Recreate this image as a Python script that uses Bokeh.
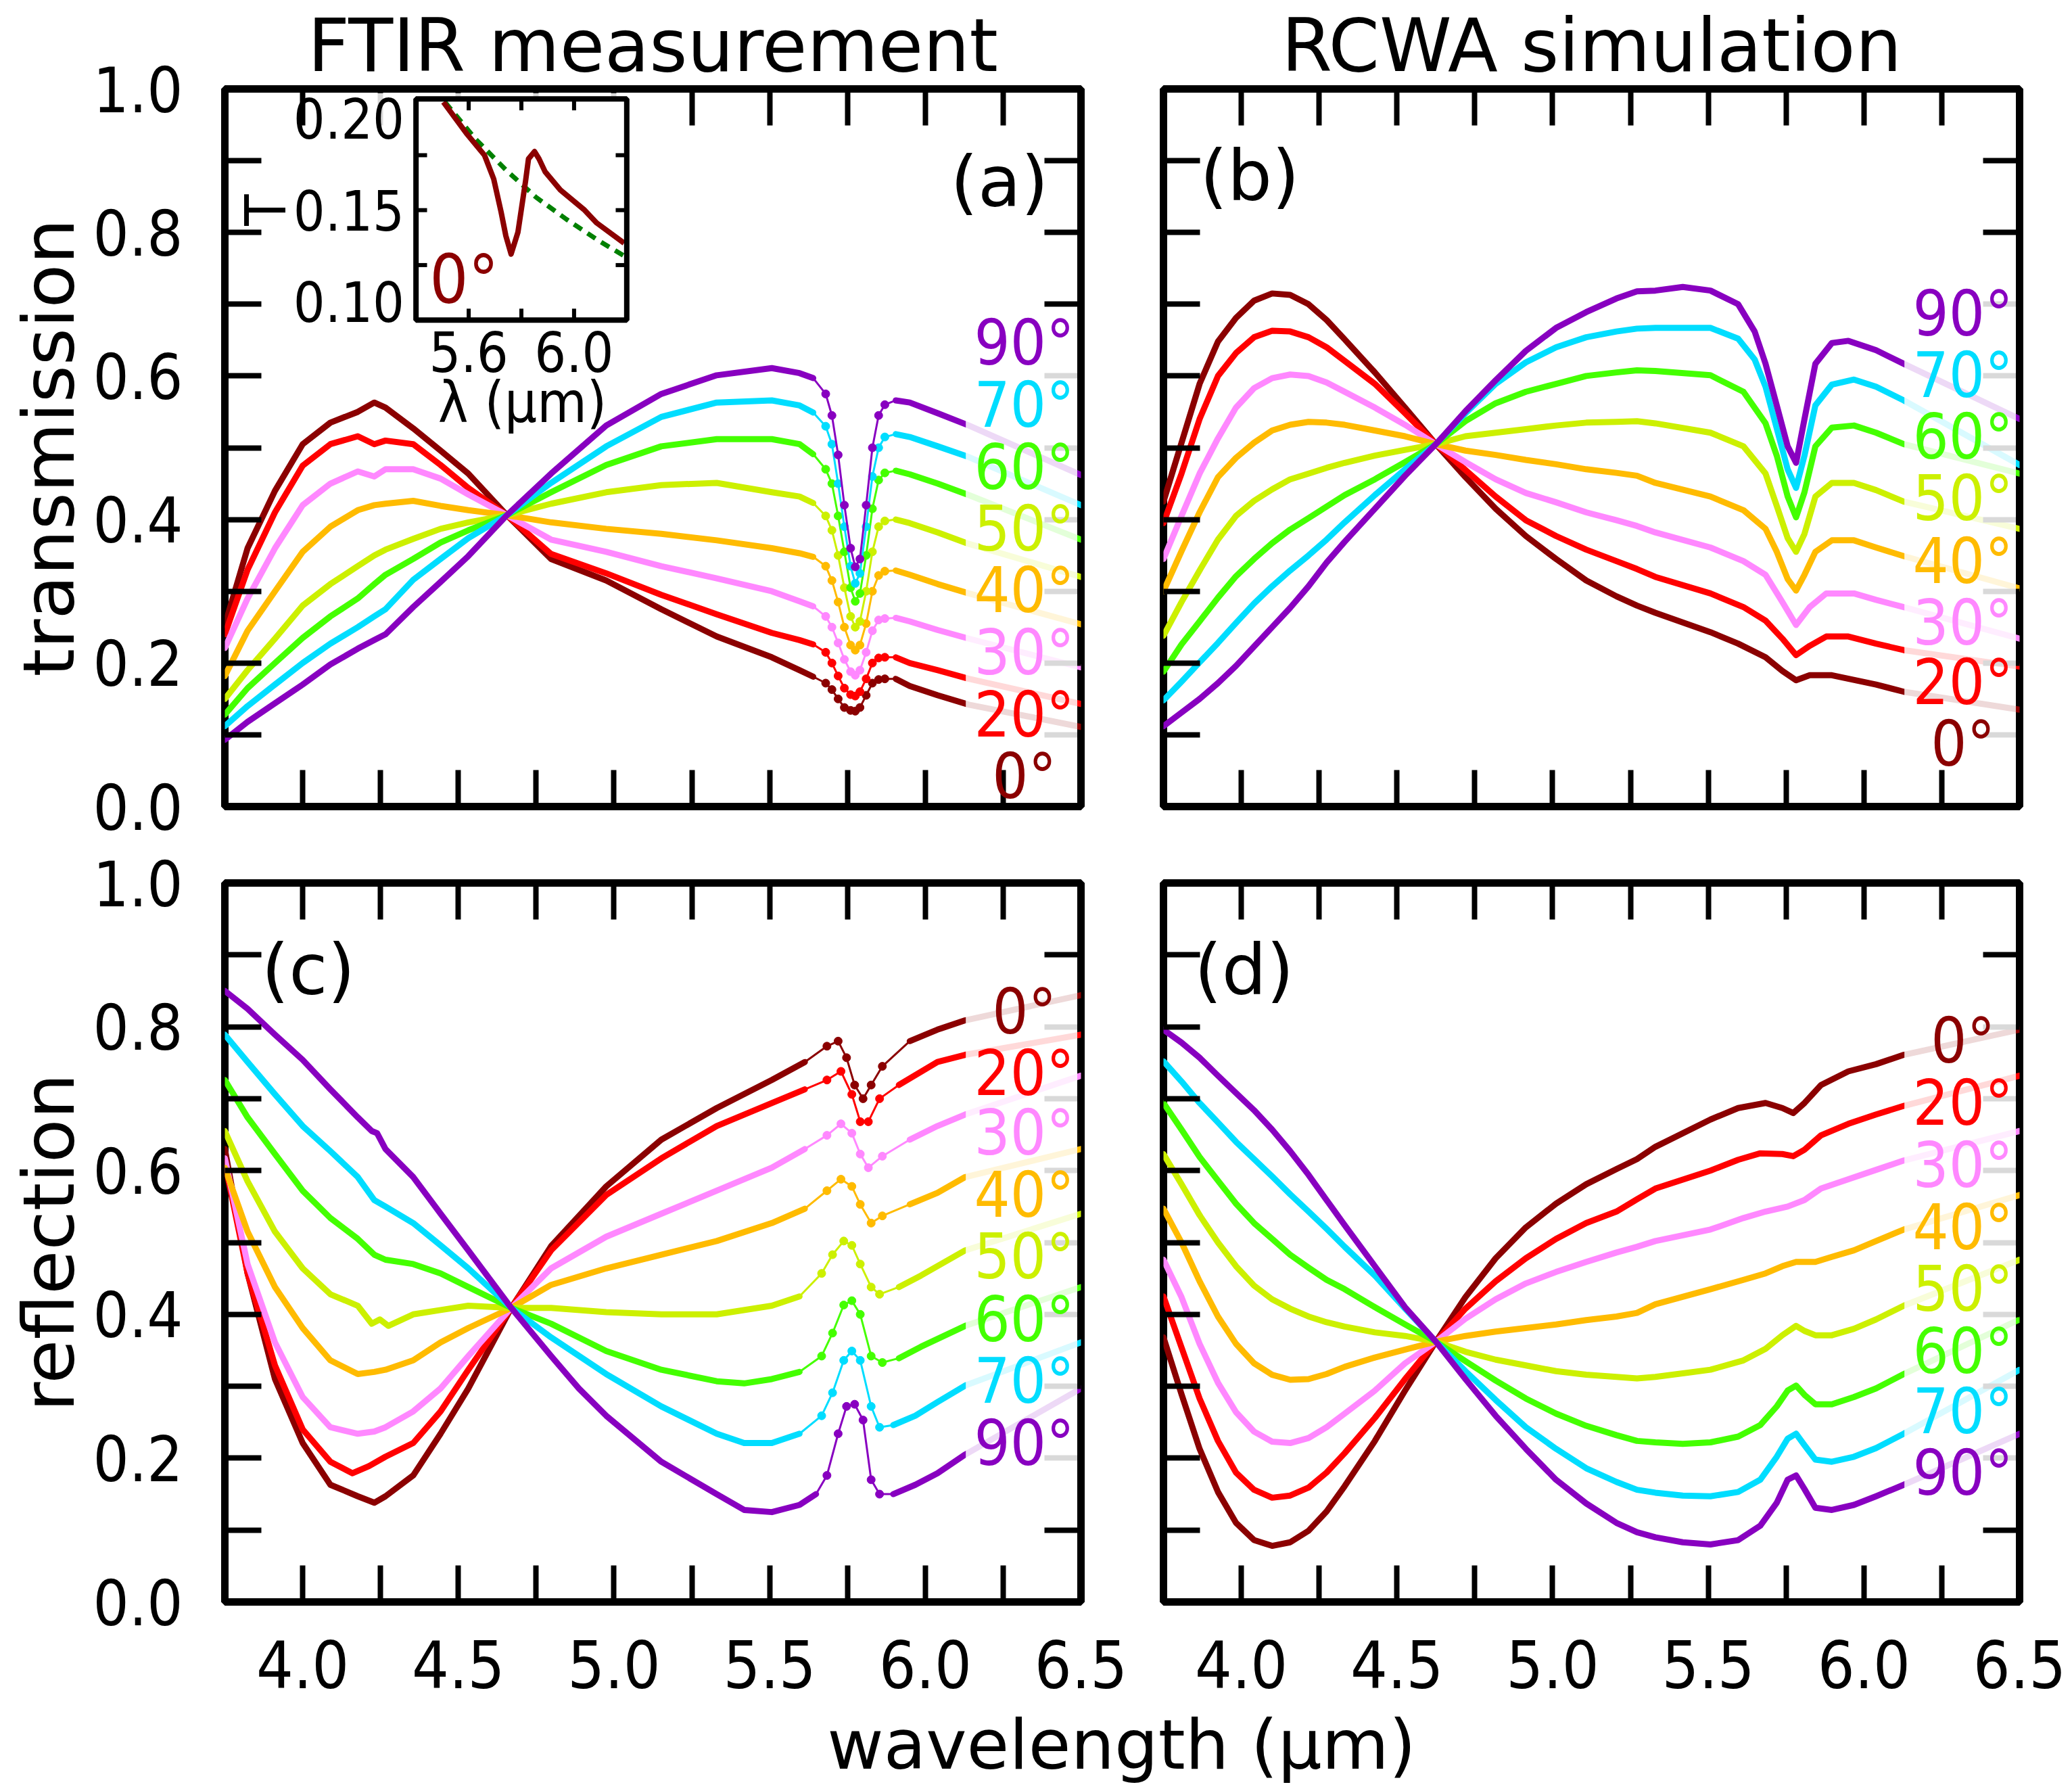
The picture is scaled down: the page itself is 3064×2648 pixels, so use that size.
import math
from bokeh.plotting import figure
from bokeh.layouts import column, row
from bokeh.models import (Range1d, FixedTicker, PrintfTickFormatter, CustomJSTickFormatter,
                          LinearAxis, BoxAnnotation)
from bokeh.core.properties import value
from bokeh.embed import file_html
from bokeh.resources import INLINE

TXT = "DejaVu Sans"
NUM = "DejaVu Sans Condensed"

angles = ["0°", "20°", "30°", "40°", "50°", "60°", "70°", "90°"]
colors = ["#8b0000", "#ff0000", "#ff88ff", "#ffbb00", "#ccf000", "#44ff00", "#00ddff", "#8800c0"]

x_major = [4.0, 4.5, 5.0, 5.5, 6.0, 6.5]
x_minor = [4.25, 4.75, 5.25, 5.75, 6.25]
y_major = [0.0, 0.2, 0.4, 0.6, 0.8, 1.0]
y_minor = [0.1, 0.3, 0.5, 0.7, 0.9]

# ---------------- (a) FTIR transmission ----------------
wl_a = [3.75, 3.823, 3.911, 4.0, 4.089, 4.177, 4.23, 4.266, 4.355, 4.443, 4.532, 4.656, 4.798,
        4.975, 5.152, 5.33, 5.507, 5.596, 5.64, 5.68, 5.70, 5.72, 5.74, 5.76, 5.775, 5.79, 5.81,
        5.83, 5.85, 5.87, 5.905, 5.95, 6.04, 6.14, 6.5]
a_0 = [0.253, 0.36, 0.44, 0.505, 0.535, 0.55, 0.563, 0.556, 0.527, 0.496, 0.464, 0.406, 0.345, 0.315, 0.275, 0.237, 0.208,
       0.19, 0.181, 0.172, 0.163, 0.15, 0.138, 0.134, 0.133, 0.138, 0.155, 0.172, 0.177, 0.178, 0.178, 0.168, 0.155, 0.142, 0.111]
a_20 = [0.24, 0.33, 0.41, 0.475, 0.505, 0.516, 0.505, 0.51, 0.505, 0.476, 0.444, 0.406, 0.352, 0.325, 0.295, 0.268, 0.242,
        0.232, 0.226, 0.215, 0.2, 0.182, 0.165, 0.156, 0.154, 0.16, 0.178, 0.2, 0.207, 0.208, 0.208, 0.2, 0.19, 0.178, 0.143]
a_30 = [0.221, 0.29, 0.36, 0.42, 0.45, 0.467, 0.46, 0.47, 0.47, 0.457, 0.435, 0.406, 0.372, 0.355, 0.335, 0.318, 0.3,
        0.286, 0.279, 0.265, 0.25, 0.228, 0.205, 0.188, 0.183, 0.19, 0.215, 0.245, 0.26, 0.262, 0.263, 0.258, 0.246, 0.234, 0.194]
a_40 = [0.182, 0.245, 0.30, 0.355, 0.39, 0.413, 0.42, 0.422, 0.426, 0.419, 0.413, 0.406, 0.396, 0.387, 0.38, 0.371, 0.36,
        0.353, 0.348, 0.335, 0.315, 0.285, 0.25, 0.225, 0.218, 0.225, 0.255, 0.30, 0.322, 0.328, 0.329, 0.323, 0.31, 0.297, 0.254]
a_50 = [0.15, 0.19, 0.234, 0.28, 0.31, 0.335, 0.35, 0.358, 0.373, 0.387, 0.396, 0.406, 0.422, 0.438, 0.448, 0.451, 0.438,
        0.432, 0.423, 0.405, 0.385, 0.35, 0.305, 0.265, 0.25, 0.258, 0.30, 0.355, 0.39, 0.398, 0.40, 0.395, 0.382, 0.366, 0.32]
a_60 = [0.128, 0.165, 0.2, 0.235, 0.265, 0.29, 0.31, 0.323, 0.345, 0.368, 0.385, 0.406, 0.438, 0.476, 0.502, 0.512, 0.512,
        0.505, 0.491, 0.47, 0.45, 0.405, 0.355, 0.305, 0.286, 0.297, 0.35, 0.415, 0.455, 0.465, 0.468, 0.463, 0.45, 0.434, 0.372]
a_70 = [0.112, 0.14, 0.17, 0.2, 0.227, 0.25, 0.265, 0.275, 0.316, 0.345, 0.374, 0.406, 0.451, 0.502, 0.543, 0.563, 0.566,
        0.559, 0.549, 0.53, 0.505, 0.45, 0.39, 0.335, 0.311, 0.325, 0.39, 0.46, 0.50, 0.515, 0.519, 0.515, 0.502, 0.487, 0.42]
a_90 = [0.093, 0.118, 0.144, 0.17, 0.198, 0.22, 0.232, 0.24, 0.278, 0.313, 0.349, 0.406, 0.464, 0.531, 0.575, 0.601, 0.611,
        0.604, 0.597, 0.575, 0.545, 0.49, 0.42, 0.36, 0.334, 0.345, 0.42, 0.50, 0.545, 0.56, 0.566, 0.563, 0.548, 0.531, 0.462]
a_label_y = [0.042, 0.128, 0.214, 0.301, 0.387, 0.473, 0.559, 0.646]

# inset of (a): 0 deg close-up of the dip, with dashed background
inset_x = [5.504, 5.591, 5.660, 5.695, 5.723, 5.741, 5.761, 5.787, 5.816, 5.827, 5.850, 5.867, 5.890, 5.948, 6.040, 6.086, 6.190]
inset_y = [0.209, 0.192, 0.180, 0.167, 0.149, 0.136, 0.126, 0.138, 0.166, 0.178, 0.182, 0.178, 0.171, 0.161, 0.150, 0.143, 0.132]
fit_x = [5.510, 5.625, 5.741, 5.856, 5.971, 6.086, 6.190]
fit_y = [0.209, 0.189, 0.172, 0.157, 0.145, 0.134, 0.125]
inset_xticks = [5.6, 5.8, 6.0]
inset_xlabels = [5.6, 6.0]
inset_yticks = [0.12, 0.15, 0.18]
inset_ylabels = [0.10, 0.15, 0.20]

# common wavelength grid of the left half of the simulated spectra (b), (d)
sim_xl = [3.75, 3.808, 3.866, 3.925, 3.983, 4.041, 4.099, 4.157, 4.216, 4.274, 4.332, 4.429,
          4.526, 4.625, 4.72, 4.817, 4.914, 5.011, 5.108, 5.205, 5.271]

# ---------------- (b) RCWA transmission ----------------
b0_l = [0.425, 0.507, 0.589, 0.648, 0.681, 0.705, 0.715, 0.713, 0.700, 0.678, 0.651, 0.605, 0.556, 0.505, 0.459, 0.415, 0.377, 0.345, 0.315, 0.293, 0.280]
b20_l = [0.395, 0.464, 0.540, 0.600, 0.632, 0.654, 0.663, 0.662, 0.654, 0.640, 0.621, 0.589, 0.548, 0.505, 0.469, 0.432, 0.399, 0.377, 0.358, 0.342, 0.331]
b30_l = [0.345, 0.405, 0.464, 0.513, 0.556, 0.583, 0.597, 0.602, 0.600, 0.591, 0.578, 0.556, 0.532, 0.505, 0.480, 0.456, 0.437, 0.424, 0.410, 0.399, 0.391]
b40_l = [0.300, 0.356, 0.410, 0.459, 0.486, 0.507, 0.524, 0.532, 0.536, 0.535, 0.532, 0.524, 0.516, 0.505, 0.496, 0.490, 0.483, 0.477, 0.470, 0.465, 0.461]
b50_l = [0.238, 0.285, 0.329, 0.372, 0.405, 0.426, 0.442, 0.456, 0.464, 0.472, 0.479, 0.489, 0.497, 0.505, 0.516, 0.521, 0.526, 0.531, 0.535, 0.536, 0.537]
b60_l = [0.188, 0.226, 0.258, 0.291, 0.321, 0.345, 0.367, 0.386, 0.402, 0.418, 0.434, 0.456, 0.480, 0.505, 0.537, 0.562, 0.578, 0.589, 0.600, 0.605, 0.608]
b70_l = [0.148, 0.174, 0.201, 0.228, 0.256, 0.283, 0.307, 0.329, 0.350, 0.372, 0.396, 0.434, 0.470, 0.505, 0.548, 0.589, 0.619, 0.640, 0.654, 0.662, 0.666]
b90_l = [0.112, 0.131, 0.150, 0.172, 0.196, 0.223, 0.250, 0.277, 0.307, 0.340, 0.369, 0.415, 0.461, 0.505, 0.551, 0.594, 0.635, 0.667, 0.689, 0.708, 0.718]
b0_rx = [5.33, 5.507, 5.596, 5.684, 5.738, 5.782, 5.826, 5.897, 6.039, 6.128, 6.5]
b0_ry = [0.270, 0.243, 0.227, 0.208, 0.189, 0.176, 0.183, 0.183, 0.170, 0.160, 0.135]
b20_rx = [5.33, 5.507, 5.613, 5.684, 5.738, 5.782, 5.826, 5.879, 5.95, 6.039, 6.128, 6.5]
b20_ry = [0.320, 0.297, 0.278, 0.259, 0.234, 0.211, 0.224, 0.237, 0.237, 0.227, 0.218, 0.195]
b30_rx = [5.33, 5.507, 5.613, 5.684, 5.738, 5.782, 5.826, 5.879, 5.968, 6.039, 6.128, 6.5]
b30_ry = [0.382, 0.361, 0.342, 0.323, 0.285, 0.253, 0.278, 0.297, 0.297, 0.288, 0.278, 0.234]
b40_rx = [5.33, 5.507, 5.613, 5.684, 5.72, 5.755, 5.782, 5.809, 5.844, 5.897, 5.968, 6.039, 6.128, 6.5]
b40_ry = [0.451, 0.432, 0.413, 0.387, 0.355, 0.317, 0.301, 0.323, 0.355, 0.371, 0.371, 0.361, 0.349, 0.304]
b50_rx = [5.33, 5.507, 5.613, 5.684, 5.72, 5.755, 5.782, 5.809, 5.844, 5.897, 5.968, 6.039, 6.128, 6.5]
b50_ry = [0.534, 0.521, 0.502, 0.464, 0.419, 0.374, 0.355, 0.380, 0.432, 0.451, 0.451, 0.441, 0.425, 0.387]
b60_rx = [5.33, 5.507, 5.613, 5.684, 5.72, 5.755, 5.782, 5.809, 5.844, 5.897, 5.968, 6.039, 6.128, 6.5]
b60_ry = [0.607, 0.601, 0.578, 0.534, 0.489, 0.432, 0.403, 0.438, 0.502, 0.528, 0.531, 0.521, 0.505, 0.464]
b70_rx = [5.33, 5.507, 5.596, 5.649, 5.684, 5.72, 5.755, 5.782, 5.809, 5.844, 5.897, 5.968, 6.039, 6.128, 6.5]
b70_ry = [0.667, 0.667, 0.652, 0.623, 0.585, 0.527, 0.470, 0.444, 0.489, 0.559, 0.588, 0.595, 0.585, 0.566, 0.476]
b90_rx = [5.33, 5.418, 5.507, 5.596, 5.649, 5.684, 5.72, 5.755, 5.782, 5.809, 5.844, 5.897, 5.95, 6.039, 6.128, 6.5]
b90_ry = [0.719, 0.724, 0.719, 0.700, 0.662, 0.617, 0.559, 0.502, 0.479, 0.540, 0.617, 0.646, 0.649, 0.636, 0.617, 0.540]
b_label_y = [0.087, 0.173, 0.256, 0.342, 0.429, 0.515, 0.601, 0.687]

# ---------------- (c) FTIR reflection ----------------
c0_x = [3.75, 3.823, 3.911, 4.0, 4.089, 4.177, 4.23, 4.266, 4.355, 4.443, 4.532, 4.67, 4.798, 4.975, 5.152, 5.33, 5.507, 5.613, 5.684, 5.72, 5.747, 5.773, 5.8, 5.826, 5.862, 5.95, 6.039, 6.128, 6.5]
c0_y = [0.630, 0.457, 0.310, 0.221, 0.163, 0.147, 0.138, 0.147, 0.176, 0.234, 0.297, 0.409, 0.495, 0.578, 0.643, 0.687, 0.726, 0.751, 0.773, 0.780, 0.757, 0.719, 0.700, 0.719, 0.745, 0.780, 0.796, 0.809, 0.844]
c20_x = [3.75, 3.823, 3.911, 4.0, 4.089, 4.16, 4.213, 4.266, 4.355, 4.443, 4.532, 4.67, 4.798, 4.975, 5.152, 5.33, 5.507, 5.613, 5.684, 5.729, 5.764, 5.791, 5.817, 5.853, 5.915, 6.039, 6.128, 6.5]
c20_y = [0.611, 0.457, 0.329, 0.240, 0.195, 0.179, 0.189, 0.202, 0.221, 0.265, 0.323, 0.409, 0.489, 0.566, 0.617, 0.662, 0.694, 0.713, 0.726, 0.738, 0.706, 0.668, 0.668, 0.700, 0.719, 0.751, 0.761, 0.789]
c30_x = [3.75, 3.823, 3.911, 4.0, 4.089, 4.177, 4.23, 4.266, 4.355, 4.443, 4.532, 4.67, 4.798, 4.975, 5.152, 5.33, 5.507, 5.613, 5.684, 5.729, 5.764, 5.791, 5.817, 5.862, 5.95, 6.039, 6.128, 6.5]
c30_y = [0.617, 0.470, 0.361, 0.285, 0.243, 0.234, 0.237, 0.243, 0.265, 0.297, 0.342, 0.409, 0.464, 0.508, 0.540, 0.572, 0.604, 0.630, 0.649, 0.665, 0.652, 0.623, 0.604, 0.620, 0.643, 0.662, 0.678, 0.732]
c40_x = [3.75, 3.823, 3.911, 4.0, 4.089, 4.177, 4.23, 4.266, 4.355, 4.443, 4.532, 4.67, 4.798, 4.975, 5.152, 5.33, 5.507, 5.613, 5.684, 5.729, 5.764, 5.791, 5.826, 5.862, 5.95, 6.039, 6.128, 6.5]
c40_y = [0.604, 0.515, 0.438, 0.381, 0.336, 0.317, 0.320, 0.323, 0.336, 0.361, 0.381, 0.409, 0.441, 0.464, 0.483, 0.502, 0.527, 0.547, 0.572, 0.588, 0.578, 0.553, 0.527, 0.537, 0.553, 0.569, 0.591, 0.630]
c50_x = [3.75, 3.823, 3.911, 4.0, 4.089, 4.177, 4.222, 4.248, 4.275, 4.355, 4.443, 4.532, 4.67, 4.798, 4.975, 5.152, 5.33, 5.507, 5.596, 5.667, 5.702, 5.738, 5.764, 5.791, 5.826, 5.853, 5.915, 5.986, 6.128, 6.5]
c50_y = [0.655, 0.585, 0.515, 0.464, 0.428, 0.412, 0.387, 0.393, 0.384, 0.400, 0.406, 0.412, 0.409, 0.409, 0.403, 0.400, 0.400, 0.412, 0.425, 0.457, 0.483, 0.502, 0.496, 0.470, 0.438, 0.428, 0.438, 0.454, 0.489, 0.540]
c60_x = [3.75, 3.823, 3.911, 4.0, 4.089, 4.177, 4.23, 4.266, 4.355, 4.443, 4.532, 4.67, 4.798, 4.975, 5.152, 5.33, 5.418, 5.507, 5.596, 5.667, 5.702, 5.738, 5.764, 5.791, 5.826, 5.862, 5.915, 5.986, 6.128, 6.5]
c60_y = [0.726, 0.674, 0.623, 0.572, 0.534, 0.505, 0.483, 0.476, 0.470, 0.457, 0.438, 0.409, 0.387, 0.349, 0.323, 0.307, 0.304, 0.310, 0.320, 0.342, 0.374, 0.413, 0.419, 0.400, 0.342, 0.333, 0.339, 0.355, 0.384, 0.438]
c70_x = [3.75, 3.823, 3.911, 4.0, 4.089, 4.177, 4.23, 4.266, 4.355, 4.443, 4.532, 4.67, 4.798, 4.975, 5.152, 5.33, 5.418, 5.507, 5.596, 5.667, 5.702, 5.738, 5.764, 5.791, 5.826, 5.853, 5.897, 5.968, 6.039, 6.128, 6.5]
c70_y = [0.789, 0.751, 0.706, 0.662, 0.627, 0.591, 0.559, 0.550, 0.527, 0.496, 0.464, 0.409, 0.368, 0.317, 0.272, 0.234, 0.221, 0.221, 0.234, 0.259, 0.291, 0.336, 0.349, 0.336, 0.272, 0.243, 0.246, 0.259, 0.278, 0.301, 0.361]
c90_x = [3.75, 3.823, 3.911, 4.0, 4.089, 4.177, 4.222, 4.239, 4.266, 4.355, 4.443, 4.532, 4.67, 4.798, 4.887, 4.975, 5.152, 5.33, 5.418, 5.507, 5.596, 5.649, 5.684, 5.72, 5.747, 5.773, 5.8, 5.826, 5.853, 5.897, 5.968, 6.039, 6.128, 6.5]
c90_y = [0.850, 0.825, 0.789, 0.754, 0.713, 0.674, 0.655, 0.652, 0.630, 0.591, 0.540, 0.489, 0.409, 0.342, 0.297, 0.259, 0.195, 0.150, 0.128, 0.125, 0.135, 0.150, 0.176, 0.234, 0.272, 0.275, 0.253, 0.170, 0.150, 0.150, 0.163, 0.179, 0.205, 0.297]
c_label_y = [0.821, 0.735, 0.652, 0.566, 0.480, 0.393, 0.307, 0.221]

# ---------------- (d) RCWA reflection ----------------
d0_l = [0.368, 0.289, 0.213, 0.153, 0.110, 0.086, 0.078, 0.083, 0.099, 0.126, 0.161, 0.224, 0.294, 0.362, 0.424, 0.478, 0.521, 0.554, 0.581, 0.602, 0.616]
d20_l = [0.425, 0.354, 0.283, 0.224, 0.180, 0.156, 0.145, 0.148, 0.159, 0.180, 0.207, 0.256, 0.310, 0.362, 0.408, 0.446, 0.478, 0.505, 0.527, 0.543, 0.560]
d30_l = [0.476, 0.424, 0.359, 0.305, 0.264, 0.237, 0.223, 0.221, 0.228, 0.243, 0.262, 0.294, 0.332, 0.362, 0.394, 0.421, 0.443, 0.459, 0.473, 0.486, 0.494]
d40_l = [0.547, 0.500, 0.446, 0.397, 0.359, 0.332, 0.316, 0.309, 0.310, 0.317, 0.327, 0.340, 0.351, 0.362, 0.370, 0.376, 0.381, 0.386, 0.392, 0.397, 0.402]
d50_l = [0.623, 0.581, 0.538, 0.500, 0.467, 0.440, 0.421, 0.408, 0.397, 0.389, 0.383, 0.375, 0.370, 0.362, 0.348, 0.337, 0.329, 0.321, 0.316, 0.313, 0.311]
d60_l = [0.694, 0.657, 0.619, 0.586, 0.554, 0.527, 0.505, 0.483, 0.465, 0.448, 0.435, 0.410, 0.386, 0.362, 0.335, 0.308, 0.283, 0.262, 0.245, 0.232, 0.224]
d70_l = [0.752, 0.724, 0.694, 0.667, 0.640, 0.616, 0.592, 0.567, 0.543, 0.519, 0.494, 0.454, 0.408, 0.362, 0.321, 0.281, 0.243, 0.213, 0.186, 0.167, 0.156]
d90_l = [0.796, 0.778, 0.757, 0.732, 0.708, 0.684, 0.657, 0.627, 0.594, 0.559, 0.524, 0.467, 0.410, 0.362, 0.310, 0.259, 0.213, 0.170, 0.137, 0.110, 0.097]
d0_rx = [5.33, 5.507, 5.596, 5.684, 5.738, 5.773, 5.809, 5.862, 5.95, 6.039, 6.128, 6.5]
d0_ry = [0.633, 0.671, 0.687, 0.694, 0.687, 0.680, 0.694, 0.719, 0.738, 0.748, 0.761, 0.796]
d20_rx = [5.33, 5.507, 5.596, 5.667, 5.738, 5.773, 5.809, 5.862, 5.95, 6.039, 6.128, 6.5]
d20_ry = [0.575, 0.600, 0.615, 0.624, 0.623, 0.620, 0.629, 0.649, 0.665, 0.678, 0.690, 0.732]
d30_rx = [5.33, 5.507, 5.613, 5.684, 5.755, 5.809, 5.862, 5.95, 6.039, 6.128, 6.5]
d30_ry = [0.502, 0.518, 0.534, 0.543, 0.550, 0.559, 0.575, 0.588, 0.601, 0.614, 0.655]
d40_rx = [5.33, 5.507, 5.613, 5.684, 5.738, 5.782, 5.844, 5.897, 5.968, 6.039, 6.128, 6.5]
d40_ry = [0.414, 0.435, 0.448, 0.457, 0.467, 0.473, 0.473, 0.480, 0.489, 0.502, 0.518, 0.566]
d50_rx = [5.33, 5.507, 5.613, 5.684, 5.738, 5.782, 5.809, 5.844, 5.897, 5.968, 6.039, 6.128, 6.5]
d50_ry = [0.313, 0.323, 0.336, 0.352, 0.371, 0.384, 0.377, 0.371, 0.371, 0.380, 0.393, 0.412, 0.476]
d60_rx = [5.33, 5.418, 5.507, 5.596, 5.667, 5.72, 5.755, 5.782, 5.809, 5.844, 5.897, 5.968, 6.039, 6.128, 6.5]
d60_ry = [0.222, 0.220, 0.222, 0.230, 0.246, 0.272, 0.294, 0.301, 0.288, 0.275, 0.275, 0.285, 0.297, 0.317, 0.393]
d70_rx = [5.33, 5.418, 5.507, 5.596, 5.667, 5.72, 5.755, 5.782, 5.809, 5.844, 5.897, 5.968, 6.039, 6.128, 6.5]
d70_ry = [0.152, 0.148, 0.147, 0.153, 0.170, 0.202, 0.227, 0.234, 0.218, 0.198, 0.195, 0.202, 0.214, 0.234, 0.323]
d90_rx = [5.33, 5.418, 5.507, 5.596, 5.667, 5.72, 5.755, 5.782, 5.809, 5.844, 5.897, 5.968, 6.039, 6.128, 6.5]
d90_ry = [0.090, 0.083, 0.080, 0.086, 0.106, 0.138, 0.170, 0.176, 0.157, 0.131, 0.128, 0.135, 0.147, 0.163, 0.234]
d_label_y = [0.780, 0.694, 0.607, 0.521, 0.435, 0.349, 0.265, 0.179]

LABEL_X = 6.318
DOT_LO, DOT_HI = 5.66, 5.87


def style_axis(ax, ticks, minor, show, size="96px", standoff=62):
    ax.ticker = FixedTicker(ticks=ticks, minor_ticks=minor)
    ax.axis_line_color = None
    ax.major_tick_in = 54
    ax.major_tick_out = 0
    ax.minor_tick_in = 54
    ax.minor_tick_out = 0
    ax.major_tick_line_width = 8
    ax.minor_tick_line_width = 8
    ax.major_tick_line_color = "black"
    ax.minor_tick_line_color = "black"
    if show:
        ax.formatter = PrintfTickFormatter(format="%.1f")
        ax.major_label_text_font = NUM
        ax.major_label_text_font_size = size
        ax.major_label_text_color = "black"
        ax.major_label_standoff = standoff
    else:
        ax.formatter = CustomJSTickFormatter(code="return ''")
        ax.major_label_text_font_size = "0px"
        ax.major_label_standoff = 0


def panel(w, h, borders, title=None, ylabel=None, xlabels=False, ylabels=False):
    bl, br, bt, bb = borders
    p = figure(width=w, height=h, x_range=Range1d(3.75, 6.5), y_range=Range1d(0.0, 1.0),
               output_backend="svg", toolbar_location=None, title=title,
               min_border_left=bl, min_border_right=br, min_border_top=bt, min_border_bottom=bb)
    p.grid.visible = False
    p.outline_line_color = "black"
    p.outline_line_width = 11
    p.background_fill_color = "white"
    p.border_fill_color = "white"
    if title:
        p.title.align = "center"
        p.title.text_font = TXT
        p.title.text_font_size = "108px"
        p.title.text_font_style = "normal"
        p.title.text_color = "black"
        p.title.standoff = 4
    bottom = p.xaxis[0]
    left = p.yaxis[0]
    right = LinearAxis()
    top = LinearAxis()
    p.add_layout(right, "right")
    p.add_layout(top, "above")
    style_axis(bottom, x_major, x_minor, xlabels, size="96px", standoff=56)
    style_axis(top, x_major, x_minor, False)
    style_axis(left, y_major, y_minor, ylabels, size="93px", standoff=62)
    style_axis(right, y_major, y_minor, False)
    if ylabel:
        left.axis_label = ylabel
        left.axis_label_text_font = TXT
        left.axis_label_text_font_size = "106px"
        left.axis_label_text_font_style = "normal"
        left.axis_label_text_color = "black"
        left.axis_label_standoff = 0
    return p


def ftir_curve(p, xs, ys, color):
    i0 = max(i for i, x in enumerate(xs) if x < DOT_LO)
    i1 = min(i for i, x in enumerate(xs) if x > DOT_HI)
    p.line(xs[:i0 + 1], ys[:i0 + 1], line_color=color, line_width=9, line_join="round", line_cap="round")
    p.line(xs[i1:], ys[i1:], line_color=color, line_width=9, line_join="round", line_cap="round")
    p.line(xs[i0:i1 + 1], ys[i0:i1 + 1], line_color=color, line_width=3)
    p.scatter(xs[i0 + 1:i1], ys[i0 + 1:i1], size=12, fill_color=color, line_color=color)


def sim_curve(p, xs, ys, color):
    p.line(xs, ys, line_color=color, line_width=9, line_join="round", line_cap="round")


def angle_labels(p, ys, box_bottom, box_top):
    p.add_layout(BoxAnnotation(left=6.13, right=6.488, bottom=box_bottom, top=box_top,
                               fill_color="white", fill_alpha=0.85, line_color=None))
    p.text(x=[LABEL_X] * len(ys), y=ys, text=angles, text_color=colors,
           text_font=value(NUM), text_font_size="93px", text_align="center",
           text_baseline="middle", level="overlay")


def panel_tag(p, x, y, tag):
    p.text(x=[x], y=[y], text=[tag], text_font=value(TXT), text_font_size="104px",
           text_align="center", text_baseline="middle", text_color="black")


# Layout (page origin at 0,0): left column 1672 px, right column 1392 px
pa = panel(1672, 1248, (332, 74, 131, 56), title="FTIR measurement", ylabel="transmission", ylabels=True)
pb = panel(1392, 1248, (48, 78, 131, 56), title="RCWA simulation")
pc = panel(1672, 1270, (332, 74, 57, 150), ylabel="reflection", xlabels=True, ylabels=True)
pd = panel(1392, 1270, (48, 78, 57, 150), xlabels=True)

a_series = [a_0, a_20, a_30, a_40, a_50, a_60, a_70, a_90]
for ys, col in zip(a_series, colors):
    ftir_curve(pa, wl_a, ys, col)
angle_labels(pa, a_label_y, 0.06, 0.68)
panel_tag(pa, 6.238, 0.870, "(a)")

b_series = [(b0_l, b0_rx, b0_ry), (b20_l, b20_rx, b20_ry), (b30_l, b30_rx, b30_ry), (b40_l, b40_rx, b40_ry),
            (b50_l, b50_rx, b50_ry), (b60_l, b60_rx, b60_ry), (b70_l, b70_rx, b70_ry), (b90_l, b90_rx, b90_ry)]
for (yl, xr, yr), col in zip(b_series, colors):
    sim_curve(pb, sim_xl + xr, yl + yr, col)
angle_labels(pb, b_label_y, 0.06, 0.72)
panel_tag(pb, 4.027, 0.879, "(b)")

c_series = [(c0_x, c0_y), (c20_x, c20_y), (c30_x, c30_y), (c40_x, c40_y),
            (c50_x, c50_y), (c60_x, c60_y), (c70_x, c70_y), (c90_x, c90_y)]
for (xs, ys), col in zip(c_series, colors):
    ftir_curve(pc, xs, ys, col)
angle_labels(pc, c_label_y, 0.17, 0.87)
panel_tag(pc, 4.018, 0.879, "(c)")

d_series = [(d0_l, d0_rx, d0_ry), (d20_l, d20_rx, d20_ry), (d30_l, d30_rx, d30_ry), (d40_l, d40_rx, d40_ry),
            (d50_l, d50_rx, d50_ry), (d60_l, d60_rx, d60_ry), (d70_l, d70_rx, d70_ry), (d90_l, d90_rx, d90_ry)]
for (yl, xr, yr), col in zip(d_series, colors):
    sim_curve(pd, sim_xl + xr, yl + yr, col)
angle_labels(pd, d_label_y, 0.14, 0.83)
panel_tag(pd, 4.009, 0.879, "(d)")

# ---- inset in (a) ----
pa.add_layout(BoxAnnotation(left=4.1, right=5.06, bottom=0.88, top=0.994,
                            fill_color="white", fill_alpha=0.85, line_color=None))
ins = pa.subplot(x_source=Range1d(5.4, 6.2), y_source=Range1d(0.09, 0.2107),
                 x_target=Range1d(4.364, 5.041), y_target=Range1d(0.678, 0.986))
ins.quad(left=[5.4], right=[6.2], bottom=[0.09], top=[0.2107], fill_color="white",
         line_color=None, level="overlay")
ins.line(fit_x, fit_y, line_color="#008000", line_width=7, line_dash="14 10", level="overlay")
ins.line(inset_x, inset_y, line_color=colors[0], line_width=8, line_join="round", level="overlay")
dx, dy = 0.042, 0.0062
ins.segment(x0=inset_xticks, y0=[0.09] * 3, x1=inset_xticks, y1=[0.09 + dy] * 3,
            line_color="black", line_width=6, level="overlay")
ins.segment(x0=inset_xticks, y0=[0.2107] * 3, x1=inset_xticks, y1=[0.2107 - dy] * 3,
            line_color="black", line_width=6, level="overlay")
ins.segment(x0=[5.4] * 3, y0=inset_yticks, x1=[5.4 + dx] * 3, y1=inset_yticks,
            line_color="black", line_width=6, level="overlay")
ins.segment(x0=[6.2] * 3, y0=inset_yticks, x1=[6.2 - dx] * 3, y1=inset_yticks,
            line_color="black", line_width=6, level="overlay")
ins.quad(left=[5.4], right=[6.2], bottom=[0.09], top=[0.2107], fill_color=None,
         line_color="black", line_width=8, level="overlay")
ins.text(x=[5.356] * 3, y=inset_ylabels, text=["%.2f" % v for v in inset_ylabels],
         text_font=value(NUM), text_font_size="82px", text_align="right",
         text_baseline="middle", text_color="black", level="overlay")
ins.text(x=inset_xlabels, y=[0.0727] * 2, text=["%.1f" % v for v in inset_xlabels],
         text_font=value(NUM), text_font_size="82px", text_align="center",
         text_baseline="middle", text_color="black", level="overlay")
ins.text(x=[5.804], y=[0.045], text=["λ (μm)"], text_font=value(NUM), text_font_size="84px",
         text_align="center", text_baseline="middle", text_color="black", level="overlay")
ins.text(x=[4.829], y=[0.15], text=["T"], angle=math.pi / 2, text_font=value(NUM),
         text_font_size="84px", text_align="center", text_baseline="middle",
         text_color="black", level="overlay")
ins.text(x=[5.583], y=[0.112], text=["0°"], text_font=value(NUM), text_font_size="100px",
         text_align="center", text_baseline="middle", text_color=colors[0], level="overlay")

# ---- shared x-axis title ----
strip = figure(width=3064, height=128, x_range=Range1d(0, 3064), y_range=Range1d(0, 128),
               output_backend="svg", toolbar_location=None, min_border=0, title=None,
               x_axis_type=None, y_axis_type=None)
strip.outline_line_color = None
strip.grid.visible = False
strip.text(x=[1658], y=[67], text=["wavelength (μm)"], text_font=value(TXT),
           text_font_size="102px", text_align="center", text_baseline="middle",
           text_color="black")

layout = column(row(pa, pb), row(pc, pd), strip)
open("out.html", "w").write(file_html(layout, INLINE))
